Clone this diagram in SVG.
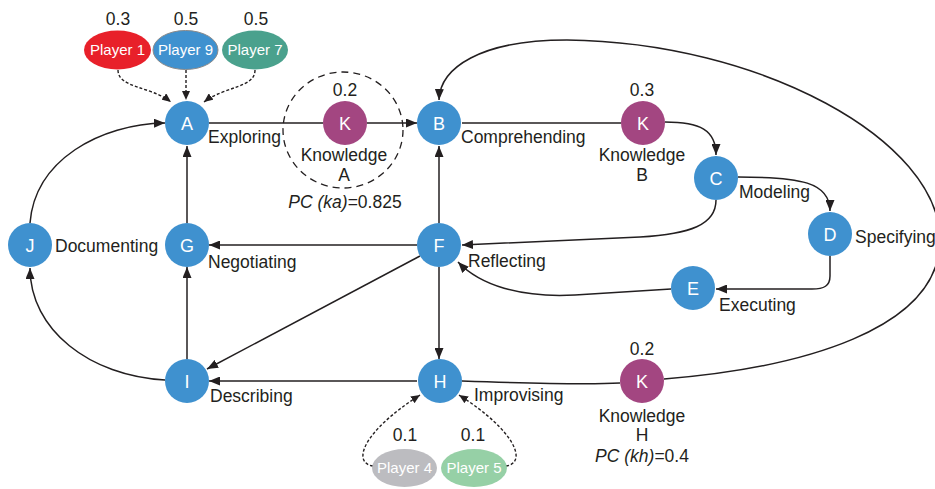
<svg xmlns="http://www.w3.org/2000/svg" width="935" height="489" viewBox="0 0 935 489">
  <style>
    text { font-family: "Liberation Sans", Arial, sans-serif; fill: #231f20; }
    .lbl { font-size: 17.5px; }
    .num { font-size: 17.5px; text-anchor: middle; }
    .mid { text-anchor: middle; }
    .nodeTxt { font-size: 18px; fill: #ffffff; text-anchor: middle; }
    .plTxt { font-size: 15px; fill: #ffffff; text-anchor: middle; }
    .step { fill: #3f91cf; }
    .know { fill: #a34681; }
    .edge { fill: none; stroke: #231f20; stroke-width: 1.5; }
    .arr { marker-end: url(#head); }
    .dot { fill: none; stroke: #231f20; stroke-width: 1.4; stroke-dasharray: 3 2; marker-end: url(#headSmall); }
    .it { font-style: italic; }
  </style>
  <defs>
    <marker id="head" markerUnits="userSpaceOnUse" markerWidth="11" markerHeight="9" refX="11" refY="4.5" orient="auto">
      <path d="M0,0 L11,4.5 L0,9 z" fill="#231f20"/>
    </marker>
    <marker id="headSmall" markerUnits="userSpaceOnUse" markerWidth="9" markerHeight="8" refX="9" refY="4" orient="auto">
      <path d="M0,0 L9,4 L0,8 z" fill="#231f20"/>
    </marker>
  </defs>

  <rect width="935" height="489" fill="#ffffff"/>

  <!-- connectors -->
  <g id="connectors">
    <line class="edge" x1="209" y1="123" x2="323" y2="123"/>
    <line class="edge arr" x1="367" y1="123" x2="417" y2="123"/>
    <line class="edge" x1="462" y1="123" x2="621" y2="123"/>
    <path class="edge arr" d="M665,122 C700,122 716,130 716,155"/>
    <path class="edge arr" d="M738,177 C800,177 830,182 830,211"/>
    <path class="edge arr" d="M830,256 L830,276 C830,286 824,289 812,289 L716,289"/>
    <path class="edge arr" d="M671,289 L575,295 C520,298 480,285 458,262"/>
    <path class="edge arr" d="M716,200 C716,225 690,234 640,237 L462,245"/>
    <line class="edge arr" x1="417" y1="245" x2="209" y2="245"/>
    <line class="edge arr" x1="439" y1="223" x2="439" y2="146"/>
    <line class="edge arr" x1="439" y1="267" x2="439" y2="359"/>
    <line class="edge arr" x1="420" y1="256" x2="207" y2="369"/>
    <line class="edge arr" x1="417" y1="381" x2="209" y2="381"/>
    <line class="edge arr" x1="187" y1="359" x2="187" y2="267"/>
    <line class="edge arr" x1="187" y1="223" x2="187" y2="146"/>
    <path class="edge arr" d="M165,380 C90,376 30,330 30,268"/>
    <path class="edge arr" d="M30,223 C35,160 100,124 165,123"/>
    <path class="edge" d="M462,381 C520,383 580,385 620,383"/>
    <path class="edge arr" d="M664,379 C800,368 940,330 940,240 C940,140 760,42 567,40 C480,40 440,68 439,100"/>
    <!-- player influence -->
    <path class="dot" d="M118,70 C118,88 150,86 171,102"/>
    <line class="dot" x1="186" y1="70" x2="186" y2="100"/>
    <path class="dot" d="M255,70 C255,88 225,86 204,102"/>
    <path class="dot" d="M373,466 C352,463 362,432 420,395"/>
    <path class="dot" d="M506,466 C527,463 517,432 459,395"/>
  </g>

  <!-- knowledge region around K (A) -->
  <ellipse cx="343" cy="130" rx="60" ry="58" fill="none" stroke="#231f20" stroke-width="1.3" stroke-dasharray="7 5"/>

  <!-- players -->
  <g id="player1">
    <ellipse cx="117.5" cy="50" rx="33.5" ry="19.5" fill="#e8202a"/>
    <text class="plTxt" x="117.5" y="55">Player 1</text>
    <text class="num" x="118" y="25">0.3</text>
  </g>
  <g id="player9">
    <ellipse cx="185.5" cy="50" rx="32.5" ry="19.5" fill="#3f91cf" stroke="#8a8a8a" stroke-width="1"/>
    <text class="plTxt" x="185.5" y="55">Player 9</text>
    <text class="num" x="186" y="25">0.5</text>
  </g>
  <g id="player7">
    <ellipse cx="255" cy="50" rx="33" ry="19.5" fill="#4aa18d"/>
    <text class="plTxt" x="255" y="55">Player 7</text>
    <text class="num" x="256" y="25">0.5</text>
  </g>
  <g id="player4">
    <ellipse cx="404.5" cy="468" rx="32.5" ry="19" fill="#bcbcc0"/>
    <text class="plTxt" x="404.5" y="473">Player 4</text>
    <text class="num" x="405" y="441">0.1</text>
  </g>
  <g id="player5">
    <ellipse cx="474" cy="468" rx="33" ry="19" fill="#96d0a6"/>
    <text class="plTxt" x="474" y="473">Player 5</text>
    <text class="num" x="473" y="441">0.1</text>
  </g>

  <!-- activity nodes -->
  <g id="nodeA">
    <circle class="step" cx="187" cy="123" r="22"/>
    <text class="nodeTxt" x="187" y="129.5">A</text>
    <text class="lbl" x="208" y="143">Exploring</text>
  </g>
  <g id="nodeB">
    <circle class="step" cx="439" cy="123" r="22"/>
    <text class="nodeTxt" x="439" y="129.5">B</text>
    <text class="lbl" x="461" y="143">Comprehending</text>
  </g>
  <g id="nodeC">
    <circle class="step" cx="716" cy="178" r="22"/>
    <text class="nodeTxt" x="716" y="184.5">C</text>
    <text class="lbl" x="739" y="198">Modeling</text>
  </g>
  <g id="nodeD">
    <circle class="step" cx="830" cy="234" r="22"/>
    <text class="nodeTxt" x="830" y="240.5">D</text>
    <text class="lbl" x="855" y="243">Specifying</text>
  </g>
  <g id="nodeE">
    <circle class="step" cx="693" cy="288" r="22"/>
    <text class="nodeTxt" x="693" y="294.5">E</text>
    <text class="lbl" x="719" y="311">Executing</text>
  </g>
  <g id="nodeF">
    <circle class="step" cx="439" cy="245" r="22"/>
    <text class="nodeTxt" x="439" y="251.5">F</text>
    <text class="lbl" x="468" y="267">Reflecting</text>
  </g>
  <g id="nodeG">
    <circle class="step" cx="187" cy="245" r="22"/>
    <text class="nodeTxt" x="187" y="251.5">G</text>
    <text class="lbl" x="208" y="268">Negotiating</text>
  </g>
  <g id="nodeJ">
    <circle class="step" cx="30" cy="245" r="22"/>
    <text class="nodeTxt" x="30" y="251.5">J</text>
    <text class="lbl" x="55" y="252">Documenting</text>
  </g>
  <g id="nodeI">
    <circle class="step" cx="187" cy="381" r="22"/>
    <text class="nodeTxt" x="187" y="387.5">I</text>
    <text class="lbl" x="210" y="402">Describing</text>
  </g>
  <g id="nodeH">
    <circle class="step" cx="440" cy="381" r="22"/>
    <text class="nodeTxt" x="440" y="387.5">H</text>
    <text class="lbl" x="474" y="401">Improvising</text>
  </g>

  <!-- knowledge nodes -->
  <g id="knowledgeA">
    <circle class="know" cx="345" cy="123" r="22"/>
    <text class="nodeTxt" x="345" y="129.5">K</text>
    <text class="num" x="345" y="96">0.2</text>
    <text class="lbl mid" x="344" y="161">Knowledge</text>
    <text class="lbl mid" x="344" y="181">A</text>
    <text class="lbl mid" x="345" y="208"><tspan class="it">PC (ka)</tspan>=0.825</text>
  </g>
  <g id="knowledgeB">
    <circle class="know" cx="643" cy="123" r="22"/>
    <text class="nodeTxt" x="643" y="129.5">K</text>
    <text class="num" x="642" y="96">0.3</text>
    <text class="lbl mid" x="642" y="161">Knowledge</text>
    <text class="lbl mid" x="642" y="181">B</text>
  </g>
  <g id="knowledgeH">
    <circle class="know" cx="642" cy="381" r="22"/>
    <text class="nodeTxt" x="642" y="387.5">K</text>
    <text class="num" x="642" y="355">0.2</text>
    <text class="lbl mid" x="642" y="422">Knowledge</text>
    <text class="lbl mid" x="642" y="441">H</text>
    <text class="lbl mid" x="642" y="462"><tspan class="it">PC (kh)</tspan>=0.4</text>
  </g>
</svg>
